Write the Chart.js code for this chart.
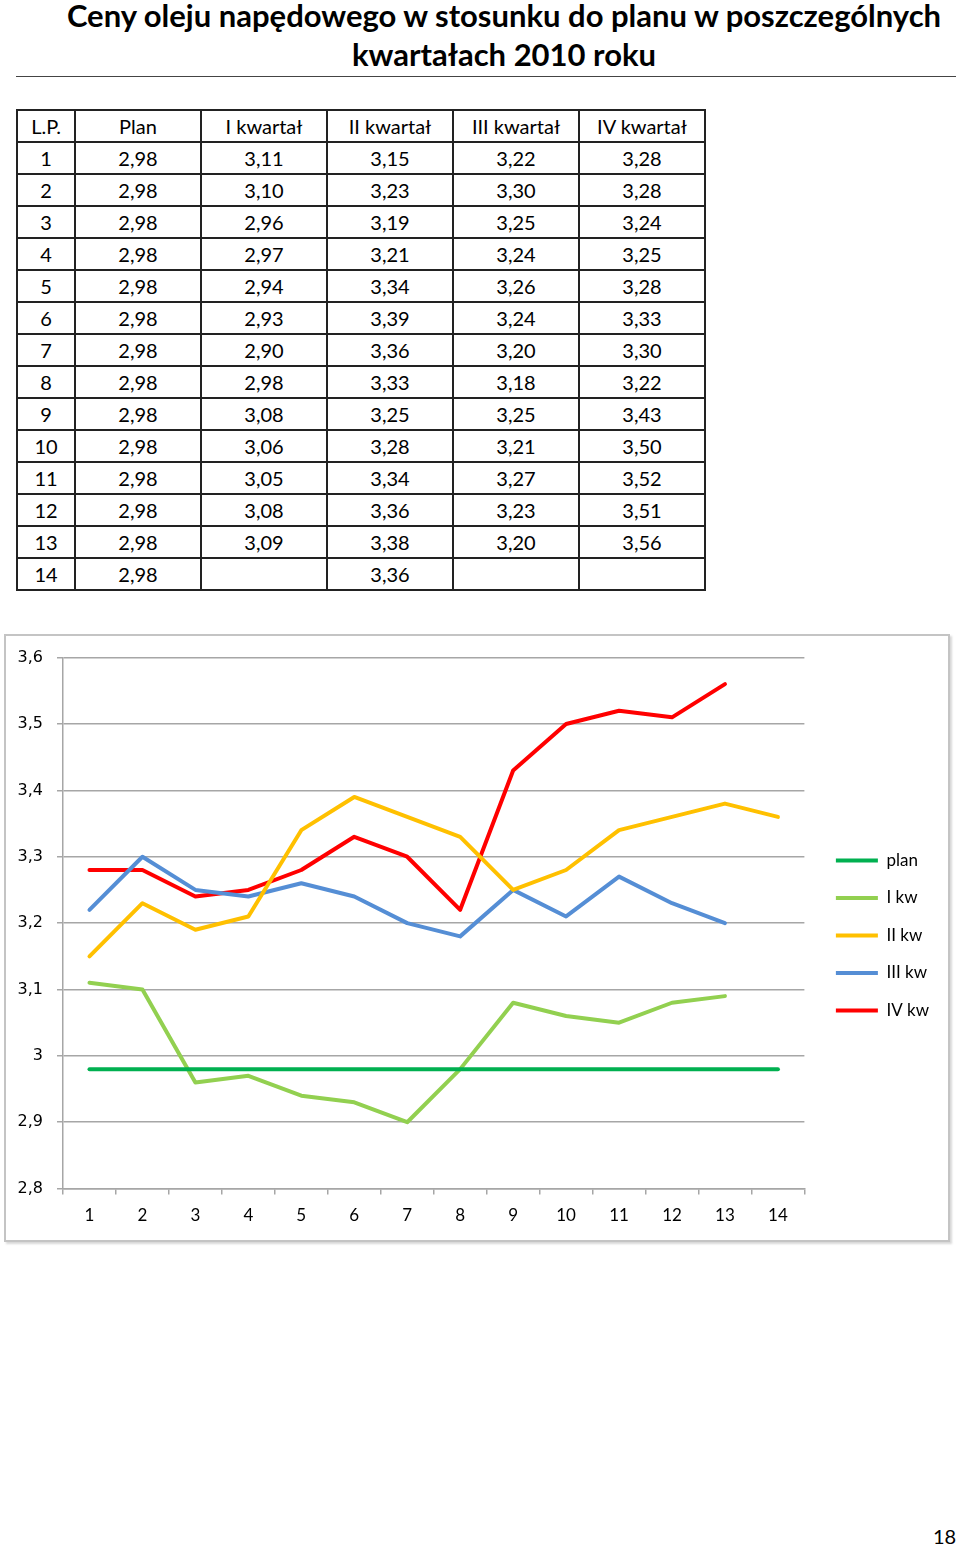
<!DOCTYPE html>
<html lang="pl">
<head>
<meta charset="utf-8">
<title>Ceny oleju napędowego</title>
<script src="https://cdn.jsdelivr.net/npm/chart.js@4/dist/chart.umd.min.js"></script>
<style>
  body { margin: 0; background: #fff; font-family: Lato, "Open Sans", sans-serif; color: #000; }
  .page { position: relative; width: 960px; height: 1546px; overflow: hidden; }
  h1 {
    position: absolute; left: 0; top: -4px; width: 1008px; margin: 0;
    text-align: center; font-size: 31px; line-height: 39px; font-weight: bold; color: #000;
  }
  .rule { position: absolute; left: 16px; top: 76px; width: 940px; height: 0; border-top: 1px solid #444; }
  table {
    position: absolute; left: 16px; top: 109px;
    border-collapse: collapse; table-layout: fixed; font-size: 20px;
  }
  td { border: 2px solid #222; height: 30px; padding: 0; text-align: center; vertical-align: middle; }
  .box {
    position: absolute; left: 4px; top: 634px; width: 942px; height: 604px;
    border: 2px solid #c4c4c4; box-shadow: 2px 2px 2px #d8d8d8;
  }
  .box canvas { position: absolute; left: 0; top: -2px; }
  .num { position: absolute; left: 933px; top: 1524px; font-size: 20px; }
</style>
</head>
<body>
<div class="page">
  <h1>Ceny oleju napędowego w stosunku do planu w poszczególnych<br>kwartałach 2010 roku</h1>
  <div class="rule"></div>
  <table id="tbl"></table>
  <div class="box"><canvas id="chart" width="942" height="604"></canvas></div>
  <div class="num">18</div>
</div>
<script>
// dane z tabeli
const lp = [1, 2, 3, 4, 5, 6, 7, 8, 9, 10, 11, 12, 13, 14];
const plan = [2.98, 2.98, 2.98, 2.98, 2.98, 2.98, 2.98, 2.98, 2.98, 2.98, 2.98, 2.98, 2.98, 2.98];
const kw1 = [3.11, 3.10, 2.96, 2.97, 2.94, 2.93, 2.90, 2.98, 3.08, 3.06, 3.05, 3.08, 3.09, null];
const kw2 = [3.15, 3.23, 3.19, 3.21, 3.34, 3.39, 3.36, 3.33, 3.25, 3.28, 3.34, 3.36, 3.38, 3.36];
const kw3 = [3.22, 3.30, 3.25, 3.24, 3.26, 3.24, 3.20, 3.18, 3.25, 3.21, 3.27, 3.23, 3.20, null];
const kw4 = [3.28, 3.28, 3.24, 3.25, 3.28, 3.33, 3.30, 3.22, 3.43, 3.50, 3.52, 3.51, 3.56, null];

const tableHeaders = ['L.P.', 'Plan', 'I kwartał', 'II kwartał', 'III kwartał', 'IV kwartał'];
const colWidths = [58, 126, 126, 126, 126, 126];
const legendNames = ['plan', 'I kw', 'II kw', 'III kw', 'IV kw'];
const colors = ['#00b050', '#92d050', '#ffc000', '#558ed5', '#ff0000'];

function fmt(v) {
    if (v === null) return '';
    return v.toFixed(2).replace('.', ',');
}

// Tabela
const tbl = document.getElementById('tbl');
let html = '<colgroup>' + colWidths.map(w => '<col style="width:' + w + 'px">').join('') + '</colgroup>';
html += '<tr>' + tableHeaders.map(h => '<td>' + h + '</td>').join('') + '</tr>';
lp.forEach((n, i) => {
    html += '<tr><td>' + n + '</td><td>' + fmt(plan[i]) + '</td><td>' + fmt(kw1[i]) + '</td><td>' +
        fmt(kw2[i]) + '</td><td>' + fmt(kw3[i]) + '</td><td>' + fmt(kw4[i]) + '</td></tr>';
});
tbl.innerHTML = html;

// Wykres
function createChart() {
    const ctx = document.getElementById('chart').getContext('2d');
    const series = [plan, kw1, kw2, kw3, kw4];

    new Chart(ctx, {
        type: 'line',
        data: {
            labels: lp.map(String),
            datasets: series.map((d, i) => ({
                label: legendNames[i],
                data: d,
                borderColor: colors[i],
                backgroundColor: colors[i],
                borderWidth: 4,
                borderCapStyle: 'round',
                borderJoinStyle: 'round',
                pointRadius: 0,
                tension: 0,
                spanGaps: false
            }))
        },
        options: {
            responsive: false,
            animation: false,
            devicePixelRatio: 1,
            layout: { padding: { left: 0, right: 9, top: 0, bottom: 1 } },
            plugins: {
                tooltip: { enabled: false },
                legend: {
                    position: 'right',
                    labels: {
                        usePointStyle: true,
                        pointStyle: 'line',
                        pointStyleWidth: 42,
                        padding: 20.5,
                        color: '#000',
                        font: { family: 'Lato', size: 17 }
                    }
                }
            },
            scales: {
                x: {
                    offset: true,
                    grid: {
                        offset: true,
                        drawOnChartArea: false,
                        color: '#a6a6a6',
                        lineWidth: 1.5,
                        tickLength: 6
                    },
                    border: { color: '#a6a6a6', width: 1.5 },
                    ticks: { color: '#000', padding: 11, font: { family: 'Lato', size: 17 } }
                },
                // puste osie tylko jako odstępy
                xTop: {
                    type: 'category',
                    position: 'top',
                    labels: [''],
                    grid: { display: false },
                    border: { display: false },
                    ticks: { display: false },
                    afterFit: s => { s.height = 8; }
                },
                y: {
                    min: 2.8,
                    max: 3.6,
                    grid: { color: '#a6a6a6', lineWidth: 1.5, tickLength: 6 },
                    border: { color: '#a6a6a6', width: 1.5 },
                    ticks: {
                        stepSize: 0.1,
                        padding: 14,
                        color: '#000',
                        font: { family: 'DejaVu Sans', size: 16 },
                        callback: v => String(Math.round(v * 10) / 10).replace('.', ',')
                    },
                    afterFit: s => { s.width = 57; }
                },
                yRight: {
                    type: 'linear',
                    position: 'right',
                    min: 0,
                    max: 1,
                    grid: { display: false },
                    border: { display: false },
                    ticks: { display: false },
                    afterFit: s => { s.width = 11; }
                }
            }
        }
    });
}

document.fonts.load('17px Lato').then(createChart, createChart);
</script>
</body>
</html>
